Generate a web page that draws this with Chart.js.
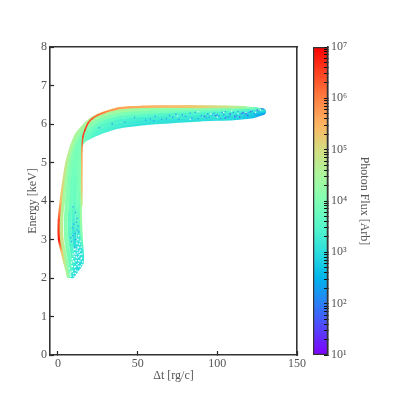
<!DOCTYPE html>
<html><head><meta charset="utf-8">
<style>html,body{margin:0;padding:0;background:#fff}
#w{position:relative;width:399px;height:399px}
canvas{position:absolute;left:0;top:0}</style>
<script src="https://cdn.jsdelivr.net/npm/chart.js@4"></script></head>
<body><div id="w"><canvas id="a" width="399" height="399"></canvas><canvas id="b" width="399" height="399"></canvas></div>
<script>
const xTicks=[0,50,100,150];
const yTicks=[0,1,2,3,4,5,6,7,8];
const fluxMajor=[10,100,1000,10000,100000,1000000,10000000];
const fluxLabels=['10¹','10²','10³','10⁴','10⁵','10⁶','10⁷'];

const t0=[6.4,4.0,2.2,0.6,0.5,1.7,3.3,5.3,8.1,11.6,16.4,20.4,25.0,37.1,50,64,89,110,122,129];
const e0=[2.03,2.4,2.7,3.0,3.5,4.0,4.5,5.0,5.4,5.74,5.98,6.13,6.24,6.4,6.44,6.45,6.44,6.43,6.41,6.37];
const f0=[4.4,4.8,5.4,6.8,6.4,5.4,5.0,4.8,4.6,4.5,4.5,4.7,5.1,5.5,5.6,5.5,5.2,4.7,4.0,3.2];
const t1=[6.8,5.4,3.7,2.2,2.0,3.1,4.5,6.2,8.7,11.8,16.5,20.75,25.7,37.3,50,64,89,110,122,129];
const e1=[2.05,2.4,2.7,3.0,3.5,4.0,4.5,5.0,5.4,5.71,5.93,6.08,6.2,6.34,6.38,6.41,6.41,6.4,6.39,6.35];
const f1=[3.8,4.2,4.5,4.9,4.7,4.5,4.4,4.3,4.3,4.3,4.4,4.4,4.4,4.4,4.3,4.2,4.1,3.8,3.4,2.9];
const t2=[7.2,7.7,6.3,5.2,4.9,5.7,6.7,8.1,10,12.7,17,21.5,26.7,37.7,50,64,89,110,122,129];
const e2=[2.05,2.4,2.7,3.0,3.5,4.0,4.5,5.0,5.4,5.67,5.87,6.0,6.12,6.25,6.3,6.33,6.35,6.35,6.36,6.34];
const f2=[3.4,3.7,3.9,4.1,4.1,4.1,4.0,4.0,4.0,4.1,4.1,4.1,4.0,4.0,3.9,3.9,3.7,3.5,3.2,2.7];
const t3=[7.8,9.75,8.75,7.75,7.4,8,8.8,9.8,11.25,13.5,17.5,22.25,27.8,38,50,64,89,110,122,129];
const e3=[2.05,2.4,2.7,3.0,3.5,4.0,4.5,5.0,5.4,5.64,5.8,5.93,6.05,6.17,6.22,6.25,6.28,6.29,6.31,6.33];
const f3=[3.2,3.3,3.5,3.5,3.6,3.8,3.8,3.9,3.9,3.9,3.9,3.8,3.7,3.6,3.6,3.5,3.4,3.2,2.9,2.5];
const t4=[8.4,11.8,11.2,10.3,9.9,10.3,10.9,11.5,12.5,14.3,18,23,28.9,38.3,50,64,89,110,122,129];
const e4=[2.05,2.4,2.7,3.0,3.5,4.0,4.5,5.0,5.4,5.6,5.73,5.86,5.97,6.08,6.13,6.17,6.2,6.22,6.26,6.32];
const f4=[3.0,3.0,3.1,3.1,3.4,3.7,3.8,3.9,3.9,3.9,3.8,3.6,3.5,3.4,3.3,3.3,3.2,3.1,2.8,2.4];
const t5=[9,13.5,13.6,12.9,12.5,12.7,12.9,13.3,13.8,15.2,18.5,23.75,29.9,38.7,50,64,89,110,122,129];
const e5=[2.05,2.4,2.7,3.0,3.5,4.0,4.5,5.0,5.4,5.56,5.67,5.78,5.88,5.98,6.05,6.1,6.15,6.17,6.22,6.3];
const f5=[3.0,3.0,3.0,3.2,3.6,3.9,4.0,4.0,4.0,3.9,3.7,3.5,3.4,3.3,3.2,3.1,3.1,3.0,2.7,2.3];
const t6=[9.2,14.9,14.9,14.4,13.9,13.9,13.9,13.9,14.2,16,19,24.5,31,39,50,64,89,110,122,129];
const e6=[2.05,2.4,2.7,3.0,3.5,4.0,4.5,5.0,5.4,5.56,5.64,5.75,5.85,5.94,6.0,6.05,6.12,6.15,6.2,6.29];
const f6=[3.0,3.1,3.3,3.9,4.3,4.4,4.5,4.5,4.4,4.0,3.5,3.4,3.3,3.2,3.1,3.1,3.0,2.9,2.6,2.2];

const ridgeT=[15,15,15,15,15.6,17,19,21.5,25,29,34,40,50,60,75,90,105,118];
const ridgeE=[3.9,4.3,5.0,5.3,5.66,5.85,6.03,6.14,6.23,6.3,6.36,6.42,6.45,6.46,6.47,6.47,6.46,6.45];
const ridgeF=[4.7,5.3,5.6,5.8,6.5,6.6,6.5,6.3,6.2,6.0,5.8,5.7,5.6,5.5,5.4,5.2,4.9,4.4];

const holeT=[10,12,14,8,11,13,9,12,15,7.5,10,13,14.5,9,11.5,13.5,8.5,12.5,10.5,14,11,15.5,13,9.5,12,7,15,10,13.5,11.5,14,12.5,11,13,14.5,12,13,8,9,10.5,11,12,13,14,15,9.5,10.2,11.8,12.8,13.8,14.8,11.3,12.6,13.4,14.2,8.8,10.2];
const holeE=[2.05,2.08,2.2,2.15,2.2,2.3,2.3,2.35,2.35,2.1,2.42,2.45,2.5,2.5,2.55,2.6,2.4,2.65,2.65,2.72,2.75,2.42,2.8,2.62,2.9,2.25,2.62,2.12,2.88,2.45,2.95,3.0,2.3,2.55,2.8,2.72,3.1,2.05,2.18,2.28,2.12,2.18,2.15,2.3,2.22,2.44,2.56,2.52,2.38,2.44,2.52,2.62,2.78,2.68,2.62,2.3,2.74];
const blueT=[10,12,9.5,11,8.5,10.5,12,11,9.5,10.8,9,12.6,11.6,13,8,26,34,42,48,55,61,68,74,80,84,90,95,98,101,104,107,110,112,115,117,120,123,126,72,86,93,100,105,108,118,122,129,58,65,78,83,97,103,113,116,60,70,76,88,94,102,106,111,119,125];
const blueE=[3.4,3.25,3.1,3.0,2.95,2.8,3.55,3.7,3.85,3.15,3.3,3.35,3.45,3.2,3.05,5.9,6.0,6.05,6.17,6.1,6.2,6.14,6.26,6.2,6.16,6.22,6.18,6.28,6.2,6.24,6.18,6.3,6.22,6.26,6.2,6.3,6.27,6.33,6.18,6.3,6.16,6.24,6.32,6.2,6.25,6.34,6.38,6.13,6.12,6.24,6.28,6.24,6.3,6.33,6.3,6.08,6.22,6.12,6.14,6.26,6.14,6.18,6.16,6.22,6.24];
const violetT=[99,108,111,114,116,119,121,125,128,92,105,118];
const violetE=[6.22,6.26,6.2,6.18,6.28,6.22,6.32,6.36,6.4,6.2,6.16,6.28];
const gapT=[104,109,113,118,124,127,96,88,75,83,100];
const gapE=[6.3,6.34,6.27,6.3,6.3,6.36,6.26,6.32,6.2,6.12,6.18];

const rainbow=f=>{const v=Math.min(1,Math.max(0,(f-1)/6));
  const r=Math.min(1,Math.abs(2*v-0.5)),g=Math.sin(Math.PI*v),b=Math.cos(Math.PI*v/2);
  return `rgb(${Math.round(r*255)},${Math.round(g*255)},${Math.round(b*255)})`;};
const toXY=(ts,es)=>ts.map((t,i)=>({x:t,y:es[i]}));
const band=(ts,es,fs,order,w)=>({type:'scatter',showLine:true,data:toXY(ts,es),order,
  borderWidth:w,pointRadius:0,fill:false,tension:0.25,borderCapStyle:'round',borderJoinStyle:'round',
  borderColor:rainbow(fs[0]),
  segment:{borderColor:c=>{
    const g=c.chart.ctx.createLinearGradient(c.p0.x,c.p0.y,c.p1.x,c.p1.y);
    g.addColorStop(0,rainbow(fs[c.p0DataIndex]));g.addColorStop(1,rainbow(fs[c.p1DataIndex]));return g;}}});
const dots=(ts,es,col,order)=>({type:'scatter',data:toXY(ts,es),order,pointStyle:'rect',pointRadius:0.9,
  pointBorderWidth:0,pointBackgroundColor:col,showLine:false});
const ink='#555',line='#333',font={family:'"Liberation Serif","DejaVu Serif",serif',size:12};
const edge=(extra)=>Object.assign({border:{display:true,color:line,width:1.6},
  grid:{display:true,drawOnChartArea:false,drawTicks:true,tickLength:-4,color:'#222',tickWidth:1.2}},extra);

new Chart(document.getElementById('a'),{
  type:'scatter',
  data:{datasets:[
    band(t6,e6,f6,16,4),band(t5,e5,f5,15,4),band(t4,e4,f4,14,4),band(t3,e3,f3,13,4),
    band(t2,e2,f2,12,4),band(t1,e1,f1,11,4),band(t0,e0,f0,10,2.2),
    band(ridgeT,ridgeE,ridgeF,5,1.5),
    dots(holeT,holeE,'#fff',3),
    dots(blueT,blueE,'#2f9df0',2),
    dots(violetT,violetE,'#5a4cf5',1),
    dots(gapT,gapE,'#e8fbf6',0)
  ]},
  options:{responsive:false,animation:false,events:[],devicePixelRatio:1,
    layout:{padding:0},
    plugins:{legend:{display:false},tooltip:{enabled:false}},
    scales:{
      x:edge({type:'linear',position:'bottom',min:-5,max:150,
        afterBuildTicks:s=>{s.ticks=xTicks.map(v=>({value:v}));},
        afterFit:s=>{s.height=44;},
        ticks:{color:ink,font,padding:6,maxRotation:0,autoSkip:false},
        title:{display:true,text:'Δt [rg/c]',color:ink,font,padding:{top:0,bottom:16}}}),
      y:edge({type:'linear',position:'left',min:0,max:8,
        afterBuildTicks:s=>{s.ticks=yTicks.map(v=>({value:v}));},
        afterFit:s=>{s.width=50;},
        ticks:{color:ink,font,padding:7,autoSkip:false},
        title:{display:true,text:'Energy [keV]',color:ink,font,padding:{top:26,bottom:0}}}),
      xTop:{type:'linear',position:'top',min:-5,max:150,afterFit:s=>{s.height=47;},
        border:{display:true,color:line,width:1.6},grid:{display:false},ticks:{display:false}},
      yRight:{type:'linear',position:'right',min:0,max:8,afterFit:s=>{s.width=102;},
        border:{display:true,color:line,width:1.6},grid:{display:false},ticks:{display:false}}
    }}
});

const minorFlux=[];
fluxMajor.slice(0,-1).forEach(d=>{[1,2,3,4,5,6,7,8,9].forEach(m=>minorFlux.push(d*m));});
minorFlux.push(10000000);
new Chart(document.getElementById('b'),{
  type:'bar',
  data:{labels:['flux'],datasets:[{data:[[10,10000000]],barPercentage:1,categoryPercentage:1,
    borderColor:line,borderWidth:1.6,borderSkipped:false,
    backgroundColor:c=>{const a=c.chart.chartArea;if(!a)return '#888';
      const g=c.chart.ctx.createLinearGradient(0,a.bottom,0,a.top);
      [1,1.5,2,2.5,3,3.5,4,4.5,5,5.5,6,6.5,7].forEach(f=>g.addColorStop((f-1)/6,rainbow(f)));return g;}}]},
  options:{responsive:false,animation:false,events:[],devicePixelRatio:1,
    layout:{padding:{left:313,top:47,bottom:44}},
    plugins:{legend:{display:false},tooltip:{enabled:false}},
    scales:{
      x:{display:false},
      y:{type:'logarithmic',position:'right',min:10,max:10000000,
        afterBuildTicks:s=>{s.ticks=minorFlux.map(v=>({value:v}));},
        afterFit:s=>{s.width=71;},
        border:{display:true,color:line,width:1.6,z:2},
        grid:{display:true,drawOnChartArea:false,drawTicks:true,tickLength:-4,color:'#111',tickWidth:1,z:2},
        ticks:{color:ink,font,padding:7,autoSkip:false,
          callback:v=>{const i=fluxMajor.indexOf(v);return i<0?'':fluxLabels[i];}},
        title:{display:true,text:'Photon Flux [Arb]',color:ink,font,padding:{top:28,bottom:0}}}
    }}
});
</script></body></html>
